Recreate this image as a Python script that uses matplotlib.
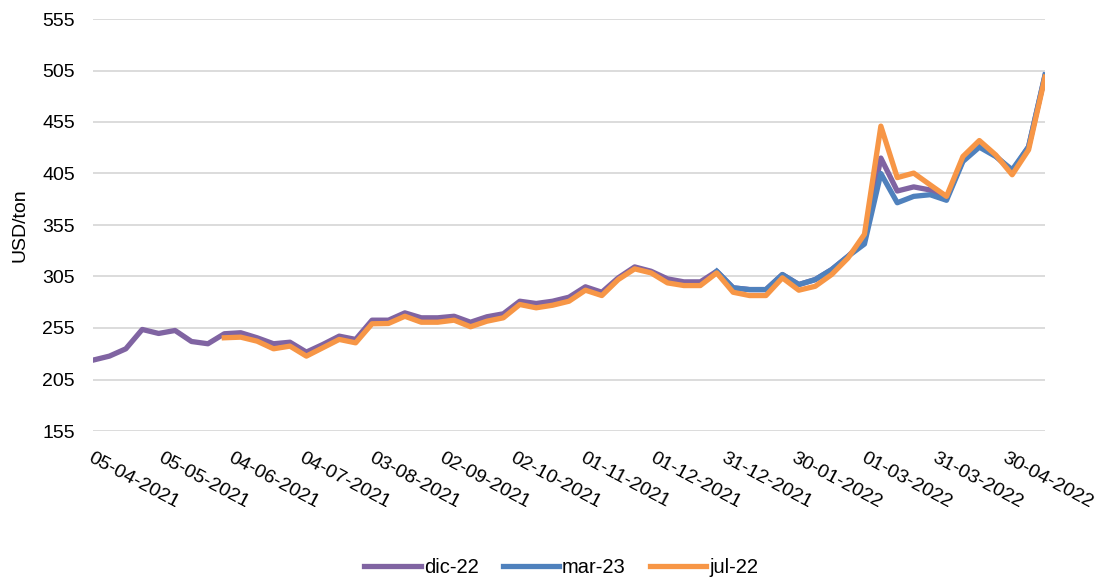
import numpy as np
import matplotlib
matplotlib.use("Agg")
import matplotlib.pyplot as plt
import matplotlib.dates as mdates
import matplotlib.transforms as mtransforms
from datetime import datetime, timedelta

plt.rcParams['font.family'] = ['Liberation Sans', 'DejaVu Sans']

# weekly prices, USD/ton
start = datetime(2021, 4, 5)
n_weeks = 59
dates = [start + timedelta(days=7*i) for i in range(n_weeks)]

dic22 = [223.8, 227.7, 234.8, 253.6, 249.7, 252.6, 241.9, 239.7, 249.4, 250.4,
         245.5, 239.7, 241.2, 231.6, 239.0, 247.1, 243.9, 262.6, 262.6, 269.7,
         264.9, 264.9, 266.4, 260.6, 265.9, 268.8, 281.0, 278.8, 281.0, 284.9,
         295.0, 289.7, 303.7, 314.3, 310.1, 302.7, 299.8, 299.8, 310.1, 294.0,
         292.3, 292.3, 306.9, 297.2, 302.0, 311.7, 324.6, 340.0, 420.0, 388.0,
         392.0, 389.0, 381.0, 418.0, 433.0, 422.0, 407.0, 431.0, 500.0]

mar23_start = 38
mar23 = [310.1, 294.0, 292.3, 292.3, 306.9, 297.2, 302.0, 311.7, 324.6, 336.5,
         405.0, 376.6, 382.8, 384.4, 379.0, 416.7, 430.6, 421.5, 408.6, 431.0,
         500.7]

jul22_start = 8
jul22 = [245.5, 246.1, 242.2, 234.8, 237.4, 227.7, 235.8, 243.9, 240.6, 259.1,
         259.4, 266.4, 260.6, 260.6, 262.6, 256.2, 261.6, 264.9, 277.8, 274.6,
         277.1, 281.0, 291.7, 286.5, 302.0, 312.4, 308.5, 298.8, 296.2, 296.2,
         308.5, 289.7, 286.5, 286.5, 303.7, 291.7, 295.5, 306.9, 323.0, 346.0,
         451.0, 401.0, 405.4, 394.0, 382.8, 421.5, 437.0, 423.0, 403.8, 428.0,
         498.5]

y_ticks = np.arange(155, 556, 50)
x_ticks = [start + timedelta(days=30*k) for k in range(14)]

fig = plt.figure(figsize=(11.15, 5.84), dpi=100)
ax = fig.add_axes([93/1115, 1-431/584, (1045-93)/1115, (431-19)/584])

lw = 3.8
ax.plot(dates, dic22, color="#8064A2", lw=lw, label="dic-22", solid_joinstyle="round")
ax.plot(dates[mar23_start:], mar23, color="#4F81BD", lw=lw, label="mar-23", solid_joinstyle="round")
ax.plot(dates[jul22_start:], jul22, color="#F79646", lw=lw, label="jul-22", solid_joinstyle="round")

ax.set_ylim(155, 555)
ax.set_yticks(y_ticks)
ax.set_xlim(dates[0], dates[-1])
ax.set_xticks(x_ticks)
ax.xaxis.set_major_formatter(mdates.DateFormatter("%d-%m-%Y"))
ax.grid(axis="y", color="#D9D9D9", lw=1.3)
ax.set_axisbelow(True)
for s in ax.spines.values():
    s.set_visible(False)
ax.tick_params(axis="both", length=0, labelsize=14, colors="black")
ax.tick_params(axis="y", pad=13)
shift = mtransforms.ScaledTranslation(7/100, 0, fig.dpi_scale_trans)
for lab in ax.get_xticklabels():
    lab.set_rotation(-28)
    lab.set_ha("left")
    lab.set_va("top")
    lab.set_rotation_mode("anchor")
    lab.set_transform(lab.get_transform() + shift)
ax.tick_params(axis="x", pad=13)

ax.set_ylabel("USD/ton", fontsize=14, labelpad=10)

ax.legend(loc="center", bbox_to_anchor=(0.492, -0.332), ncol=3, frameon=False,
          fontsize=14.5, handlelength=2.8, handletextpad=0.15, columnspacing=1.2)

plt.savefig("out.png", dpi=100)
